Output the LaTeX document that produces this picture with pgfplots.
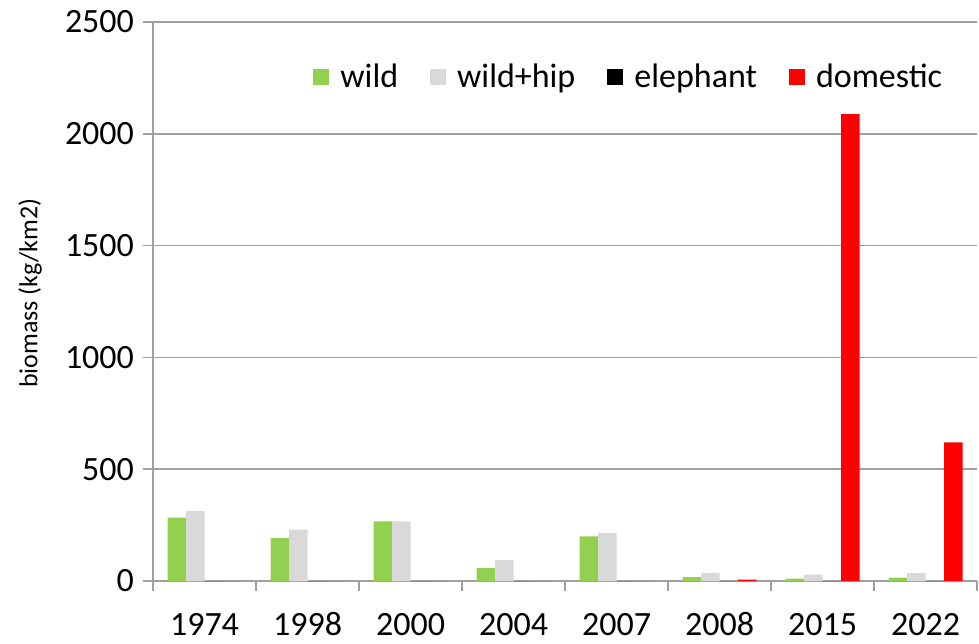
\documentclass[border=0pt]{standalone}
\usepackage{pgfplots}
\pgfplotsset{compat=1.18}
\usepackage{fontspec}
\setmainfont{Carlito}
\definecolor{wildc}{HTML}{92D050}
\definecolor{hipc}{HTML}{D9D9D9}
\definecolor{domc}{HTML}{FF0000}
\definecolor{axc}{HTML}{A0A0A0}
\begin{document}
\begin{tikzpicture}
\path[use as bounding box] (-76.5pt,-31pt) rectangle (413pt,290.5pt);
\begin{axis}[
  at={(0,0)}, anchor=south west,
  scale only axis, width=412pt, height=279.5pt,
  xmin=-0.5, xmax=7.5, ymin=0, ymax=2500,
  ybar=0pt, bar width=9.25pt,
  axis x line*=bottom, axis y line*=left,
  axis line style={draw=axc, line width=0.75pt},
  tick align=outside, major tick length=5pt,
  tick style={draw=axc, line width=0.75pt},
  ytick={0,500,...,2500},
  ymajorgrids, grid style={draw=axc, line width=0.75pt},
  xtick={-0.5,0.5,1.5,2.5,3.5,4.5,5.5,6.5,7.5},
  x tick label as interval,
  xticklabels={1974,1998,2000,2004,2007,2008,2015,2022},
  tick label style={font=\fontsize{17}{20}\selectfont, text=black},
  xticklabel style={anchor=base, inner sep=0pt, text height=12pt, text depth=0pt, yshift=-22pt},
  yticklabel style={xshift=-1pt},
  /pgf/number format/assume math mode=true,
  /pgf/number format/1000 sep={},
  ylabel={biomass (kg/km2)},
  every axis y label/.style={at={(axis description cs:-0.149,0.515)}, anchor=center, rotate=90, font=\fontsize{13}{15}\selectfont},
  legend columns=4,
  legend style={at={(axis description cs:0.963,0.9016)}, anchor=east, draw=none, fill=none,
    font=\fontsize{17}{20}\selectfont, inner sep=0pt,
    /tikz/every odd column/.append style={column sep=3.5pt},
    /tikz/every even column/.append style={column sep=14pt}},
  legend image code/.code={\fill[#1] (0pt,-4pt) rectangle (8pt,4pt);},
]
\addplot[fill=wildc, draw=none] coordinates {(0,283) (1,192) (2,267) (3,58) (4,200) (5,17) (6,11) (7,15)};
\addplot[fill=hipc, draw=none] coordinates {(0,312) (1,230) (2,267) (3,93) (4,215) (5,36) (6,28) (7,35)};
\addplot[fill=black, draw=none] coordinates {(0,0) (1,0) (2,0) (3,0) (4,0) (5,0) (6,0) (7,0)};
\addplot[fill=domc, draw=none] coordinates {(0,0) (1,0) (2,0) (3,0) (4,0) (5,6) (6,2088) (7,620)};
\legend{wild, wild+hip, elephant, domestic}
\end{axis}
\end{tikzpicture}
\end{document}
